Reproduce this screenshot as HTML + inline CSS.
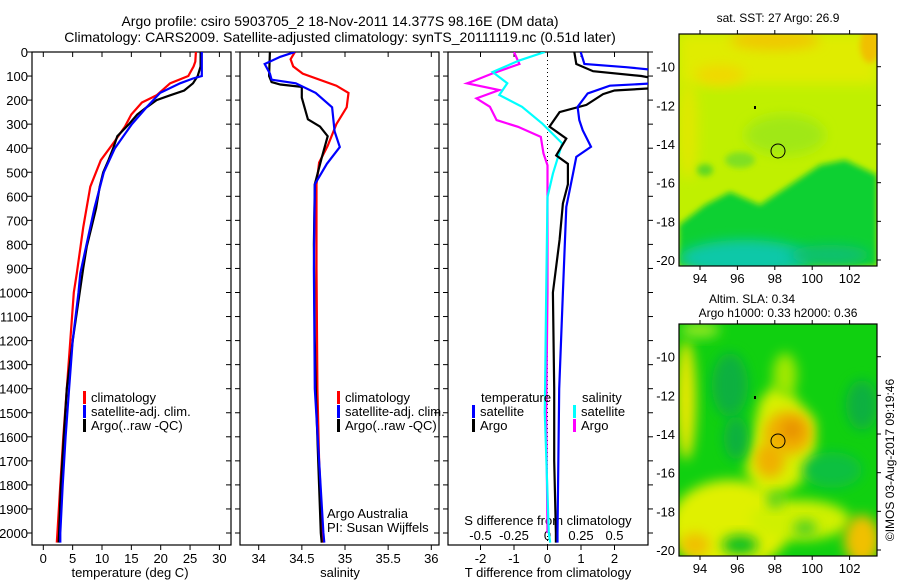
<!DOCTYPE html>
<html><head><meta charset="utf-8"><style>
body{margin:0;background:#fff;}
svg{display:block;font-family:"Liberation Sans",sans-serif;}
text{font-size:13px;fill:#000;}
</style></head><body>
<svg id="chart" width="900" height="580" viewBox="0 0 900 580" xmlns="http://www.w3.org/2000/svg">
<defs>
<filter id="blur6" x="-50%" y="-50%" width="200%" height="200%"><feGaussianBlur stdDeviation="6"/></filter>
<filter id="blur3" x="-50%" y="-50%" width="200%" height="200%"><feGaussianBlur stdDeviation="3"/></filter>
<clipPath id="clipSST"><rect x="679" y="34" width="198" height="232"/></clipPath>
<clipPath id="clipSLA"><rect x="679" y="324" width="198" height="232"/></clipPath>
<clipPath id="clipP1"><rect x="32" y="52" width="199" height="493"/></clipPath>
<clipPath id="clipP2"><rect x="240" y="52" width="199" height="493"/></clipPath>
<clipPath id="clipP3"><rect x="448" y="52" width="200" height="493"/></clipPath>
</defs>
<text x="340" y="26" text-anchor="middle" style="font-size:14px">Argo profile: csiro 5903705_2 18-Nov-2011 14.377S 98.16E (DM data)</text>
<text x="340" y="42" text-anchor="middle" style="font-size:14px">Climatology: CARS2009. Satellite-adjusted climatology: synTS_20111119.nc (0.51d later)</text>

<g>
<g clip-path="url(#clipSST)">
<rect x="679" y="34" width="198" height="232" fill="#c0f000"/>
<rect x="679" y="34" width="198" height="50" fill="#e0ec00" filter="url(#blur6)"/>
<ellipse cx="775" cy="40" rx="45" ry="10" fill="#f0c800" filter="url(#blur6)"/>
<ellipse cx="720" cy="75" rx="25" ry="10" fill="#f0d800" filter="url(#blur6)"/>
<ellipse cx="870" cy="45" rx="10" ry="18" fill="#f0c000" filter="url(#blur3)"/>
<ellipse cx="688" cy="130" rx="10" ry="50" fill="#e0e800" filter="url(#blur6)"/>
<ellipse cx="785" cy="135" rx="40" ry="20" fill="#a0e818" filter="url(#blur6)"/>
<ellipse cx="740" cy="160" rx="15" ry="8" fill="#80e020" filter="url(#blur3)"/>
<ellipse cx="705" cy="170" rx="8" ry="6" fill="#60d820" filter="url(#blur3)"/>
<polygon points="679,225 705,205 730,192 760,205 790,185 820,165 845,160 877,175 877,266 679,266" fill="#10d030" filter="url(#blur3)"/>
<ellipse cx="745" cy="258" rx="65" ry="18" fill="#10c8a8" filter="url(#blur6)"/>
<ellipse cx="830" cy="255" rx="40" ry="10" fill="#10c070" filter="url(#blur6)"/>
</g>
<rect x="679" y="34" width="198" height="232" fill="none" stroke="#000" stroke-width="1.2"/>
<circle cx="778" cy="151" r="7" fill="none" stroke="#000" stroke-width="1"/>
<rect x="754" y="106" width="2" height="3" fill="#000"/>
<text x="778" y="22" text-anchor="middle" style="font-size:12px">sat. SST: 27 Argo: 26.9</text>
</g>

<g>
<g clip-path="url(#clipSLA)">
<rect x="679" y="324" width="198" height="232" fill="#10d010"/>
<ellipse cx="730" cy="525" rx="60" ry="45" fill="#e0f000" filter="url(#blur6)"/>
<ellipse cx="800" cy="520" rx="50" ry="20" fill="#d0f000" filter="url(#blur6)"/>
<ellipse cx="686" cy="400" rx="10" ry="60" fill="#e8e800" filter="url(#blur6)"/>
<ellipse cx="700" cy="330" rx="20" ry="8" fill="#90e820" filter="url(#blur6)"/>
<polygon points="760,400 775,385 790,392 815,420 815,470 790,490 760,500 745,470" fill="#d8f000" filter="url(#blur6)"/>
<ellipse cx="785" cy="375" rx="12" ry="22" fill="#a0e800" filter="url(#blur6)"/>
<ellipse cx="788" cy="433" rx="24" ry="22" fill="#f0b000" filter="url(#blur6)"/>
<ellipse cx="770" cy="460" rx="15" ry="18" fill="#f0b000" filter="url(#blur6)"/>
<ellipse cx="792" cy="430" rx="10" ry="10" fill="#e89000" filter="url(#blur6)"/>
<ellipse cx="862" cy="540" rx="18" ry="25" fill="#f0c000" filter="url(#blur6)"/>
<ellipse cx="695" cy="545" rx="15" ry="12" fill="#f0c000" filter="url(#blur6)"/>
<ellipse cx="730" cy="385" rx="18" ry="32" fill="#10b040" filter="url(#blur6)"/>
<ellipse cx="736" cy="438" rx="12" ry="22" fill="#10b040" filter="url(#blur6)"/>
<ellipse cx="862" cy="405" rx="16" ry="25" fill="#10b040" filter="url(#blur6)"/>
<ellipse cx="832" cy="470" rx="30" ry="18" fill="#10c040" filter="url(#blur6)"/>
<ellipse cx="740" cy="545" rx="18" ry="10" fill="#10c020" filter="url(#blur6)"/>
<ellipse cx="805" cy="528" rx="12" ry="8" fill="#50d020" filter="url(#blur6)"/>
<ellipse cx="775" cy="500" rx="8" ry="8" fill="#50d020" filter="url(#blur6)"/>
</g>
<rect x="679" y="324" width="198" height="232" fill="none" stroke="#000" stroke-width="1.2"/>
<circle cx="778" cy="441" r="7" fill="none" stroke="#000" stroke-width="1"/>
<rect x="754" y="396" width="2" height="3" fill="#000"/>
<text x="752" y="303" text-anchor="middle" style="font-size:12px">Altim. SLA: 0.34</text>
<text x="778" y="317" text-anchor="middle" style="font-size:12px">Argo h1000: 0.33 h2000: 0.36</text>
</g>
<text transform="translate(894,460) rotate(-90)" text-anchor="middle" style="font-size:12px">©IMOS 03-Aug-2017 09:19:46</text>
<g id="layer"></g>
</svg>
<script>
// ---------- data ----------
const depthTicks = [0,100,200,300,400,500,600,700,800,900,1000,1100,1200,1300,1400,1500,1600,1700,1800,1900,2000];
const tempTicks = [0,5,10,15,20,25,30];
const salTicks = [34,34.5,35,35.5,36];
const salTickLabels = ["34","34.5","35","35.5","36"];
const tdiffTicks = [-2,-1,0,1,2];
const sdiffTicks = [-0.5,-0.25,0,0.25,0.5];
const sdiffTickLabels = ["-0.5","-0.25","0","0.25","0.5"];
const lonTicks = [94,96,98,100,102];
const latTicks = [-10,-12,-14,-16,-18,-20];

const tClimDepth = [0,40,60,100,130,180,210,260,310,370,450,560,730,920,1000,1200,1400,1600,1800,2000,2040];
const tClimVal   = [26.0,25.9,25.6,24.7,21.6,19.3,16.8,15.0,13.9,12.2,9.8,8.0,6.8,5.7,5.2,4.6,4.0,3.4,2.9,2.4,2.3];
const tSatDepth = [0,100,110,130,170,230,300,400,500,650,920,1000,1200,1400,1600,1800,2000,2040];
const tSatVal   = [27.0,27.0,25.5,23.3,19.9,17.6,15.1,12.2,10.3,8.7,6.3,6.0,5.0,4.4,3.8,3.3,2.9,2.9];
const tArgoDepth = [0,60,100,130,160,180,200,230,260,300,350,400,450,500,560,650,730,810,900,1000,1200,1400,1600,1800,2000,2040];
const tArgoVal   = [26.8,26.8,26.3,25.5,24.0,21.6,19.3,17.6,16.0,14.6,12.6,11.9,11.1,10.2,9.6,9.0,8.2,7.4,6.8,6.2,5.0,4.0,3.5,3.0,2.7,2.6];

const sClimDepth = [0,30,60,90,140,170,230,300,390,460,550,900,1400,1700,2000,2040];
const sClimVal   = [34.42,34.37,34.40,34.51,34.90,35.04,35.02,34.90,34.80,34.70,34.67,34.67,34.68,34.70,34.74,34.74];
const sSatDepth = [0,20,50,90,115,130,170,230,330,395,465,550,900,1400,1700,2000,2040];
const sSatVal   = [34.42,34.25,34.07,34.13,34.15,34.43,34.66,34.85,34.88,34.94,34.79,34.65,34.64,34.65,34.70,34.75,34.76];
const sArgoDepth = [0,100,125,135,145,190,280,310,350,440,550,800,1200,1400,1700,2000,2040];
const sArgoVal   = [34.13,34.12,34.15,34.25,34.50,34.50,34.57,34.71,34.80,34.73,34.65,34.64,34.65,34.66,34.69,34.72,34.73];

const dtSatDepth = [0,50,63,75,130,140,172,228,283,325,394,436,506,644,1000,1400,2000,2040];
const dtSatVal   = [0.99,1.1,2.35,3.2,3.2,1.86,1.2,0.9,0.95,1.05,1.3,0.86,0.76,0.56,0.46,0.35,0.3,0.3];
const dtArgoDepth = [0,50,80,100,110,150,160,175,220,250,310,360,430,465,550,630,780,1000,1400,1700,2000,2040];
const dtArgoVal   = [0.8,0.86,1.36,2.8,3.2,3.2,2.0,1.66,1.16,0.36,0.06,0.56,0.26,0.61,0.61,0.46,0.36,0.16,0.2,0.2,0.25,0.25];
const dsSatDepth = [0,35,83,130,179,228,297,380,506,603,1000,1500,2000,2040];
const dsSatVal   = [-0.02,-0.21,-0.41,-0.30,-0.36,-0.19,-0.04,0.11,0.04,0.0,-0.01,-0.02,0.01,0.02];
const dsArgoDepth = [0,50,89,120,130,158,193,228,283,311,353,422,471,1000,1500,2000];
const dsArgoVal   = [-0.25,-0.21,-0.41,-0.55,-0.60,-0.36,-0.53,-0.43,-0.38,-0.22,-0.05,-0.03,0.0,0.0,-0.01,0.0];

// ---------- scales ----------
const yDepth = d => 52 + d*0.2405;
const xTemp = t => 43.3 + t*5.87;
const xSal = s => 258.7 + (s-34)*86.3;
const xTd = t => 547.5 + t*33.5;
const xSd = s => 547.5 + s*134;
const xLon = l => 700 + (l-94)*18.7;
const yLatTop = l => 66.7 + (-10-l)*19.33;
const yLatBot = l => 356.7 + (-10-l)*19.33;

const NS="http://www.w3.org/2000/svg";
const layer=document.getElementById('layer');
function mk(tag,attrs,parent){const e=document.createElementNS(NS,tag);for(const k in attrs)e.setAttribute(k,attrs[k]);(parent||layer).appendChild(e);return e;}
function txt(s,x,y,anchor,size,parent){const e=mk('text',{x:x,y:y,'text-anchor':anchor||'middle'},parent);if(size)e.style.fontSize=size+'px';e.textContent=s;return e;}

const TOP=52, BOT=545;
function frame(x0,x1,name){
  const r=mk('rect',{x:x0,y:TOP,width:x1-x0,height:BOT-TOP,fill:'none',stroke:'#000','stroke-width':1.2});
  
  
}
function depthTickMarks(x0,x1,labels,rightOut){
  depthTicks.forEach(d=>{
    const y=yDepth(d);
    mk('line',{x1:x0-5,x2:x0,y1:y,y2:y,stroke:'#000'});
    if(rightOut) mk('line',{x1:x1,x2:x1+5,y1:y,y2:y,stroke:'#000'});
    else mk('line',{x1:x1-5,x2:x1,y1:y,y2:y,stroke:'#000'});
    if(labels){const t=txt(String(d),28,y+5,'end');
      
      }
  });
}
function series(ds,vs,xf,color,name,clip){
  const pts=ds.map((d,i)=>xf(vs[i]).toFixed(1)+','+yDepth(d).toFixed(1)).join(' ');
  const p=mk('polyline',{points:pts,fill:'none',stroke:color,'stroke-width':2.2,'clip-path':clip});
  
  
}
function legendItem(x,y,color,label,name){
  mk('rect',{x:x,y:y-11,width:3,height:13,fill:color});
  const t=txt(label,x+8,y,'start');
  
  
}

// Panel 1 temperature
frame(32,231,'temperature-panel-frame');
depthTickMarks(32,231,true,false);
tempTicks.forEach(v=>{const x=xTemp(v);mk('line',{x1:x,x2:x,y1:BOT,y2:BOT+5,stroke:'#000'});mk('line',{x1:x,x2:x,y1:TOP,y2:TOP+5,stroke:'#000'});
  const t=txt(String(v),x,563);
  
  });
const xl1=txt('temperature (deg C)',130,577);


series(tClimDepth,tClimVal,xTemp,'#ff0000','temp-climatology-line','url(#clipP1)');
series(tArgoDepth,tArgoVal,xTemp,'#000000','temp-argo-line','url(#clipP1)');
series(tSatDepth,tSatVal,xTemp,'#0000ff','temp-satellite-line','url(#clipP1)');
legendItem(83,402,'#ff0000','climatology','legend-climatology');
legendItem(83,416,'#0000ff','satellite-adj. clim.','legend-satellite');
legendItem(83,430,'#000000','Argo(..raw -QC)','legend-argo');

// Panel 2 salinity
frame(240,439,'salinity-panel-frame');
depthTickMarks(240,439,false,false);
salTicks.forEach((v,i)=>{const x=xSal(v);mk('line',{x1:x,x2:x,y1:BOT,y2:BOT+5,stroke:'#000'});mk('line',{x1:x,x2:x,y1:TOP,y2:TOP+5,stroke:'#000'});
  const t=txt(salTickLabels[i],x,563);
  
  });
const xl2=txt('salinity',340,577);


series(sClimDepth,sClimVal,xSal,'#ff0000','sal-climatology-line','url(#clipP2)');
series(sArgoDepth,sArgoVal,xSal,'#000000','sal-argo-line','url(#clipP2)');
series(sSatDepth,sSatVal,xSal,'#0000ff','sal-satellite-line','url(#clipP2)');
legendItem(337,402,'#ff0000','climatology','legend-climatology-2');
legendItem(337,416,'#0000ff','satellite-adj. clim.','legend-satellite-2');
legendItem(337,430,'#000000','Argo(..raw -QC)','legend-argo-2');
const aa=txt('Argo Australia',327,518,'start');


const pi=txt('PI: Susan Wijffels',327,532,'start');



// Panel 3 differences
frame(448,648,'difference-panel-frame');
depthTickMarks(448,648,false,true);
mk('line',{x1:xTd(0),x2:xTd(0),y1:TOP,y2:BOT,stroke:'#000','stroke-dasharray':'1,3'});
tdiffTicks.forEach(v=>{const x=xTd(v);mk('line',{x1:x,x2:x,y1:BOT,y2:BOT+5,stroke:'#000'});mk('line',{x1:x,x2:x,y1:TOP,y2:TOP+5,stroke:'#000'});
  const t=txt(String(v),x,563);
  
  });
sdiffTicks.forEach((v,i)=>{const t=txt(sdiffTickLabels[i],xSd(v),540);
  
  });
const sdt=txt('S difference from climatology',548,525);


const tdt=txt('T difference from climatology',548,577);


series(dsArgoDepth,dsArgoVal,xSd,'#ff00ff','sdiff-argo-line','url(#clipP3)');
series(dsSatDepth,dsSatVal,xSd,'#00ffff','sdiff-satellite-line','url(#clipP3)');
series(dtArgoDepth,dtArgoVal,xTd,'#000000','tdiff-argo-line','url(#clipP3)');
series(dtSatDepth,dtSatVal,xTd,'#0000ff','tdiff-satellite-line','url(#clipP3)');
const lt=txt('temperature',481,402,'start');


const ls=txt('salinity',582,402,'start');


legendItem(472,416,'#0000ff','satellite','legend-t-satellite');
legendItem(472,430,'#000000','Argo','legend-t-argo');
legendItem(573,416,'#00ffff','satellite','legend-s-satellite');
legendItem(573,430,'#ff00ff','Argo','legend-s-argo');

// Map axes
function mapAxes(y0,y1,yLat,prefix){
  lonTicks.forEach(l=>{const x=xLon(l);mk('line',{x1:x,x2:x,y1:y0-4,y2:y0,stroke:'#000'});mk('line',{x1:x,x2:x,y1:y1,y2:y1+4,stroke:'#000'});
    const t=txt(String(l),x,y1+17);
    
    });
  latTicks.forEach(l=>{const y=yLat(l);mk('line',{x1:877,x2:881,y1:y,y2:y,stroke:'#000'});
    const t=txt(String(l),675,y+5,'end');
    
    });
}
mapAxes(34,266,yLatTop,'sst');
mapAxes(324,556,yLatBot,'sla');
</script>
</body></html>
